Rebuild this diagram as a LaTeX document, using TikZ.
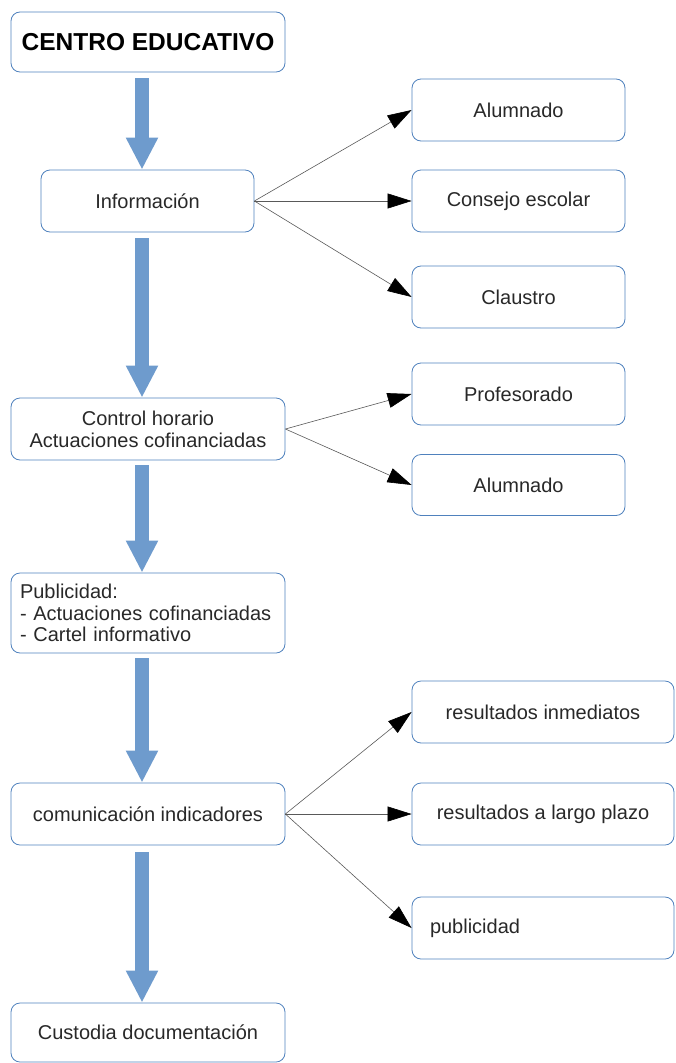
\documentclass[tikz,border=0pt]{standalone}
\usepackage{fontspec}
\setmainfont{Liberation Sans}
\usepackage{tikz}
\usetikzlibrary{arrows.meta}
\usetikzlibrary{positioning}

\definecolor{boxblue}{RGB}{79,129,189}
\definecolor{arrowfill}{RGB}{110,155,205}
\definecolor{txtgray}{RGB}{40,40,40}

\begin{document}
\begin{tikzpicture}[x=1pt, y=-1pt,
    every node/.style={draw=boxblue, line width=0.8pt, rounded corners=9pt, text=txtgray,
        font=\fontsize{20}{22}\selectfont, align=center, inner sep=0pt},
    bigarrow/.style={line width=14pt, arrowfill, -{Triangle[length=32pt, width=30pt]}},
    thinarrow/.style={draw=black!65, line width=0.6pt, -{Triangle[length=24pt, width=15pt, color=black]}}]

        \useasboundingbox (0,0) rectangle (675,1063);

        \node[minimum width=274pt, minimum height=60pt, text=black,
              font=\bfseries\fontsize{24.5}{28}\selectfont] (C) at (148,42) {CENTRO EDUCATIVO};

        \node[minimum width=213pt, minimum height=62pt] (I) at (147.5,201) {Información};
        \node[minimum width=213pt, minimum height=62pt] (I1) at (518.5,110) {Alumnado};
        \node[minimum width=213pt, minimum height=62pt] (I2) at (518.5,201) {Consejo escolar};
        \node[minimum width=213pt, minimum height=62pt] (I3) at (518.5,297) {Claustro};

        \node[minimum width=274pt, minimum height=62pt] (H) at (148,429) {Control horario\\Actuaciones cofinanciadas};
        \node[minimum width=213pt, minimum height=62pt] (H1) at (518.5,394) {Profesorado};
        \node[minimum width=213pt, minimum height=61pt] (H2) at (518.5,485) {Alumnado};

        \node[text width=256pt, inner xsep=9pt, minimum height=80pt, align=left,
              font=\fontsize{20}{21.5}\selectfont] (P) at (148,613)
              {Publicidad:\\- Actuaciones cofinanciadas\\- Cartel informativo};

        \node[minimum width=274pt, minimum height=62pt] (R) at (148,814) {comunicación indicadores};
        \node[minimum width=262pt, minimum height=62pt] (R1) at (543,712) {resultados inmediatos};
        \node[minimum width=262pt, minimum height=62pt] (R2) at (543,814) {resultados a largo plazo};
        \node[text width=226pt, inner xsep=18pt, minimum height=62pt, align=left] (R3) at (543,928) {publicidad};

        \node[minimum width=274pt, minimum height=59pt] (D) at (148,1032.5) {Custodia documentación};

        \draw[bigarrow] ([xshift=-6pt,yshift=-6pt]C.south) -- ([xshift=-5.5pt]I.north);
        \draw[bigarrow] ([xshift=-5.5pt,yshift=-6pt]I.south) -- ([xshift=-6pt]H.north);
        \draw[bigarrow] ([xshift=-6pt,yshift=-5pt]H.south) -- ([xshift=-6pt]P.north);
        \draw[bigarrow] ([xshift=-6pt,yshift=-5pt]P.south) -- ([xshift=-6pt]R.north);
        \draw[bigarrow] ([xshift=-6pt,yshift=-7pt]R.south) -- ([xshift=-6pt]D.north);

        \draw[thinarrow] (I.east) -- (I1.west);
        \draw[thinarrow] (I.east) -- (I2.west);
        \draw[thinarrow] (I.east) -- (I3.west);

        \draw[thinarrow] (H.east) -- (H1.west);
        \draw[thinarrow] (H.east) -- (H2.west);

        \draw[thinarrow] (R.east) -- (R1.west);
        \draw[thinarrow] (R.east) -- (R2.west);
        \draw[thinarrow] (R.east) -- (R3.west);

    \end{tikzpicture}
\end{document}
